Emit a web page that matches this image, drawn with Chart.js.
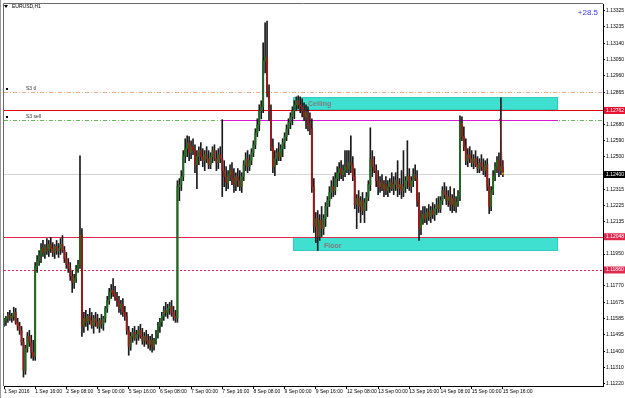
<!DOCTYPE html>
<html>
<head>
<meta charset="utf-8">
<script src="https://cdn.jsdelivr.net/npm/chart.js@4.4.0/dist/chart.umd.min.js"></script>
<style>
  html, body { margin: 0; padding: 0; background: #fff; }
</style>
</head>
<body>
<canvas id="myChart" width="625" height="398"></canvas>
<script>
// EURUSD H1, 1 Sep 2016 00:00 .. 15 Sep 2016 16:00 (one bar per hour)
var tickLabels = ['1 Sep 2016', '1 Sep 16:00', '2 Sep 08:00', '5 Sep 00:00', '5 Sep 16:00', '6 Sep 08:00',
  '7 Sep 00:00', '7 Sep 16:00', '8 Sep 08:00', '9 Sep 00:00', '9 Sep 16:00', '12 Sep 08:00',
  '13 Sep 00:00', '13 Sep 16:00', '14 Sep 08:00', '15 Sep 00:00', '15 Sep 16:00'];
var barsPerLabel = 16;

var priceTicks = [1.13325, 1.13235, 1.13140, 1.13050, 1.12960, 1.12865, 1.12680, 1.12590, 1.12500,
  1.12315, 1.12225, 1.12135, 1.11950, 1.11770, 1.11675, 1.11585, 1.11495, 1.11400, 1.11310, 1.11220];
var markedPrices = [1.12762, 1.12400, 1.12048, 1.11860];
var markedColors = ['#e8102e', '#000000', '#e0284f', '#e0284f'];

var opens = [
  1.11564, 1.11575, 1.11587, 1.11603, 1.11587, 1.11598, 1.11620, 1.11564, 1.11541, 1.11519,
  1.11451, 1.11293, 1.11417, 1.11485, 1.11451, 1.11395, 1.11372, 1.11880, 1.11914, 1.11942,
  1.11981, 1.11959, 1.11993, 1.11970, 1.12004, 1.11981, 1.11959, 1.11993, 1.11970, 1.11981,
  1.12004, 1.11970, 1.11925, 1.11891, 1.11869, 1.11824, 1.11790, 1.11812, 1.11869, 1.11891,
  1.12060, 1.11541, 1.11587, 1.11564, 1.11598, 1.11575, 1.11547, 1.11587, 1.11564, 1.11541,
  1.11575, 1.11553, 1.11587, 1.11643, 1.11688, 1.11733, 1.11745, 1.11722, 1.11699, 1.11677,
  1.11643, 1.11666, 1.11620, 1.11598, 1.11519, 1.11428, 1.11485, 1.11507, 1.11474, 1.11496,
  1.11519, 1.11485, 1.11462, 1.11485, 1.11462, 1.11440, 1.11462, 1.11428, 1.11462, 1.11496,
  1.11541, 1.11564, 1.11598, 1.11632, 1.11620, 1.11643, 1.11654, 1.11620, 1.11598, 1.11587,
  1.12331, 1.12343, 1.12388, 1.12506, 1.12546, 1.12580, 1.12523, 1.12557, 1.12535, 1.12455,
  1.12501, 1.12535, 1.12501, 1.12478, 1.12512, 1.12489, 1.12455, 1.12501, 1.12535, 1.12489,
  1.12467, 1.12512, 1.12489, 1.12422, 1.12388, 1.12354, 1.12399, 1.12422, 1.12377, 1.12343,
  1.12388, 1.12365, 1.12331, 1.12388, 1.12455, 1.12489, 1.12444, 1.12478, 1.12523, 1.12568,
  1.12636, 1.12681, 1.12760, 1.12783, 1.13042, 1.13065, 1.12862, 1.12749, 1.12557, 1.12444,
  1.12489, 1.12523, 1.12501, 1.12546, 1.12580, 1.12614, 1.12659, 1.12693, 1.12726, 1.12760,
  1.12794, 1.12817, 1.12794, 1.12783, 1.12760, 1.12726, 1.12749, 1.12681, 1.12659, 1.12331,
  1.12106, 1.12151, 1.12049, 1.12140, 1.12094, 1.12151, 1.12219, 1.12252, 1.12298, 1.12331,
  1.12309, 1.12377, 1.12410, 1.12433, 1.12399, 1.12422, 1.12444, 1.12433, 1.12467, 1.12455,
  1.12388, 1.12230, 1.12264, 1.12219, 1.12252, 1.12196, 1.12241, 1.12275, 1.12343, 1.12489,
  1.12444, 1.12422, 1.12365, 1.12331, 1.12354, 1.12320, 1.12343, 1.12309, 1.12331, 1.12354,
  1.12320, 1.12343, 1.12365, 1.12320, 1.12343, 1.12309, 1.12331, 1.12365, 1.12388, 1.12331,
  1.12365, 1.12399, 1.12377, 1.12252, 1.12094, 1.12151, 1.12173, 1.12151, 1.12185, 1.12162,
  1.12196, 1.12173, 1.12207, 1.12230, 1.12207, 1.12252, 1.12309, 1.12286, 1.12252, 1.12275,
  1.12230, 1.12264, 1.12219, 1.12241, 1.12275, 1.12693, 1.12614, 1.12557, 1.12478, 1.12512,
  1.12489, 1.12467, 1.12489, 1.12455, 1.12433, 1.12467, 1.12444, 1.12422, 1.12455, 1.12331,
  1.12219, 1.12309, 1.12388, 1.12444, 1.12478, 1.12422, 1.12444
];
var highs = [
  1.11587, 1.11598, 1.11620, 1.11632, 1.11615, 1.11649, 1.11643, 1.11587, 1.11564, 1.11541,
  1.11474, 1.11434, 1.11507, 1.11519, 1.11491, 1.11462, 1.11902, 1.11942, 1.11970, 1.12010,
  1.12027, 1.12004, 1.12038, 1.12027, 1.12044, 1.12015, 1.12004, 1.12027, 1.12010, 1.12038,
  1.12055, 1.11993, 1.11959, 1.11925, 1.11902, 1.11857, 1.11835, 1.11886, 1.11914, 1.12506,
  1.12094, 1.11620, 1.11632, 1.11609, 1.11643, 1.11620, 1.11603, 1.11620, 1.11609, 1.11587,
  1.11609, 1.11598, 1.11654, 1.11711, 1.11756, 1.11778, 1.11812, 1.11767, 1.11733, 1.11711,
  1.11688, 1.11699, 1.11654, 1.11620, 1.11541, 1.11507, 1.11530, 1.11541, 1.11519, 1.11541,
  1.11553, 1.11530, 1.11507, 1.11519, 1.11496, 1.11485, 1.11496, 1.11474, 1.11519, 1.11564,
  1.11587, 1.11620, 1.11654, 1.11677, 1.11666, 1.11677, 1.11688, 1.11654, 1.11632, 1.12365,
  1.12377, 1.12422, 1.12535, 1.12602, 1.12619, 1.12614, 1.12591, 1.12602, 1.12568, 1.12535,
  1.12557, 1.12580, 1.12546, 1.12535, 1.12557, 1.12535, 1.12523, 1.12557, 1.12568, 1.12535,
  1.12546, 1.12557, 1.12710, 1.12478, 1.12444, 1.12422, 1.12455, 1.12467, 1.12433, 1.12410,
  1.12433, 1.12422, 1.12410, 1.12478, 1.12523, 1.12535, 1.12512, 1.12546, 1.12591, 1.12659,
  1.12715, 1.12794, 1.12817, 1.13144, 1.13257, 1.13268, 1.12907, 1.12794, 1.12602, 1.12535,
  1.12546, 1.12580, 1.12568, 1.12602, 1.12636, 1.12681, 1.12715, 1.12749, 1.12783, 1.12817,
  1.12839, 1.12845, 1.12839, 1.12828, 1.12805, 1.12794, 1.12783, 1.12749, 1.12715, 1.12377,
  1.12185, 1.12196, 1.12173, 1.12219, 1.12173, 1.12241, 1.12275, 1.12331, 1.12365, 1.12388,
  1.12410, 1.12444, 1.12467, 1.12478, 1.12455, 1.12535, 1.12535, 1.12535, 1.12619, 1.12501,
  1.12433, 1.12286, 1.12309, 1.12275, 1.12298, 1.12264, 1.12298, 1.12365, 1.12664, 1.12535,
  1.12501, 1.12455, 1.12422, 1.12388, 1.12399, 1.12365, 1.12388, 1.12365, 1.12377, 1.12410,
  1.12388, 1.12410, 1.12478, 1.12377, 1.12422, 1.12535, 1.12388, 1.12591, 1.12433, 1.12388,
  1.12433, 1.12455, 1.12422, 1.12298, 1.12196, 1.12219, 1.12219, 1.12207, 1.12230, 1.12219,
  1.12241, 1.12230, 1.12264, 1.12275, 1.12275, 1.12331, 1.12354, 1.12331, 1.12309, 1.12331,
  1.12286, 1.12320, 1.12275, 1.12309, 1.12732, 1.12726, 1.12670, 1.12602, 1.12546, 1.12557,
  1.12535, 1.12512, 1.12535, 1.12501, 1.12489, 1.12512, 1.12489, 1.12478, 1.12489, 1.12377,
  1.12331, 1.12422, 1.12467, 1.12501, 1.12523, 1.12834, 1.12478
];
var lows = [
  1.11541, 1.11547, 1.11564, 1.11575, 1.11564, 1.11575, 1.11553, 1.11519, 1.11496, 1.11434,
  1.11254, 1.11270, 1.11395, 1.11428, 1.11361, 1.11349, 1.11349, 1.11846, 1.11886, 1.11902,
  1.11936, 1.11925, 1.11948, 1.11936, 1.11959, 1.11936, 1.11925, 1.11948, 1.11931, 1.11948,
  1.11959, 1.11902, 1.11869, 1.11846, 1.11801, 1.11733, 1.11756, 1.11790, 1.11846, 1.11869,
  1.11485, 1.11507, 1.11541, 1.11519, 1.11553, 1.11530, 1.11502, 1.11541, 1.11530, 1.11507,
  1.11530, 1.11519, 1.11564, 1.11620, 1.11666, 1.11699, 1.11711, 1.11688, 1.11654, 1.11620,
  1.11609, 1.11598, 1.11575, 1.11496, 1.11378, 1.11406, 1.11451, 1.11462, 1.11440, 1.11462,
  1.11474, 1.11440, 1.11428, 1.11440, 1.11417, 1.11406, 1.11395, 1.11406, 1.11440, 1.11474,
  1.11507, 1.11541, 1.11575, 1.11598, 1.11587, 1.11609, 1.11598, 1.11575, 1.11564, 1.11564,
  1.12252, 1.12309, 1.12365, 1.12467, 1.12501, 1.12478, 1.12489, 1.12512, 1.12410, 1.12320,
  1.12455, 1.12478, 1.12444, 1.12422, 1.12467, 1.12433, 1.12433, 1.12467, 1.12478, 1.12422,
  1.12433, 1.12467, 1.12275, 1.12331, 1.12309, 1.12320, 1.12365, 1.12343, 1.12298, 1.12309,
  1.12331, 1.12309, 1.12298, 1.12365, 1.12422, 1.12410, 1.12422, 1.12455, 1.12501, 1.12546,
  1.12614, 1.12647, 1.12715, 1.12749, 1.12975, 1.12839, 1.12704, 1.12535, 1.12410, 1.12394,
  1.12455, 1.12478, 1.12478, 1.12501, 1.12546, 1.12591, 1.12625, 1.12659, 1.12681, 1.12715,
  1.12760, 1.12772, 1.12749, 1.12726, 1.12704, 1.12659, 1.12647, 1.12625, 1.12298, 1.12072,
  1.12015, 1.11970, 1.12027, 1.12049, 1.12060, 1.12106, 1.12162, 1.12219, 1.12264, 1.12275,
  1.12286, 1.12331, 1.12365, 1.12377, 1.12365, 1.12388, 1.12410, 1.12399, 1.12410, 1.12365,
  1.12207, 1.12094, 1.12185, 1.12128, 1.12173, 1.12128, 1.12196, 1.12252, 1.12309, 1.12388,
  1.12410, 1.12331, 1.12286, 1.12298, 1.12309, 1.12275, 1.12286, 1.12275, 1.12298, 1.12309,
  1.12286, 1.12309, 1.12275, 1.12286, 1.12264, 1.12275, 1.12298, 1.12320, 1.12309, 1.12298,
  1.12331, 1.12365, 1.12219, 1.12027, 1.12060, 1.12117, 1.12128, 1.12117, 1.12140, 1.12128,
  1.12151, 1.12140, 1.12173, 1.12185, 1.12185, 1.12230, 1.12264, 1.12230, 1.12219, 1.12196,
  1.12185, 1.12196, 1.12185, 1.12219, 1.12252, 1.12591, 1.12535, 1.12455, 1.12444, 1.12467,
  1.12444, 1.12433, 1.12444, 1.12410, 1.12410, 1.12422, 1.12399, 1.12388, 1.12309, 1.12179,
  1.12196, 1.12286, 1.12365, 1.12410, 1.12388, 1.12399, 1.12388
];
var closes = [
  1.11575, 1.11587, 1.11603, 1.11587, 1.11598, 1.11620, 1.11564, 1.11541, 1.11519, 1.11451,
  1.11293, 1.11417, 1.11485, 1.11451, 1.11395, 1.11372, 1.11880, 1.11914, 1.11942, 1.11981,
  1.11959, 1.11993, 1.11970, 1.12004, 1.11981, 1.11959, 1.11993, 1.11970, 1.11981, 1.12004,
  1.11970, 1.11925, 1.11891, 1.11869, 1.11824, 1.11790, 1.11812, 1.11869, 1.11891, 1.12060,
  1.11541, 1.11587, 1.11564, 1.11598, 1.11575, 1.11547, 1.11587, 1.11564, 1.11541, 1.11575,
  1.11553, 1.11587, 1.11643, 1.11688, 1.11733, 1.11745, 1.11722, 1.11699, 1.11677, 1.11643,
  1.11666, 1.11620, 1.11598, 1.11519, 1.11428, 1.11485, 1.11507, 1.11474, 1.11496, 1.11519,
  1.11485, 1.11462, 1.11485, 1.11462, 1.11440, 1.11462, 1.11428, 1.11462, 1.11496, 1.11541,
  1.11564, 1.11598, 1.11632, 1.11620, 1.11643, 1.11654, 1.11620, 1.11598, 1.11587, 1.12331,
  1.12343, 1.12388, 1.12506, 1.12546, 1.12580, 1.12523, 1.12557, 1.12535, 1.12455, 1.12501,
  1.12535, 1.12501, 1.12478, 1.12512, 1.12489, 1.12455, 1.12501, 1.12535, 1.12489, 1.12467,
  1.12512, 1.12489, 1.12422, 1.12388, 1.12354, 1.12399, 1.12422, 1.12377, 1.12343, 1.12388,
  1.12365, 1.12331, 1.12388, 1.12455, 1.12489, 1.12444, 1.12478, 1.12523, 1.12568, 1.12636,
  1.12681, 1.12760, 1.12783, 1.13042, 1.13065, 1.12862, 1.12749, 1.12557, 1.12444, 1.12489,
  1.12523, 1.12501, 1.12546, 1.12580, 1.12614, 1.12659, 1.12693, 1.12726, 1.12760, 1.12794,
  1.12817, 1.12794, 1.12783, 1.12760, 1.12726, 1.12749, 1.12681, 1.12659, 1.12331, 1.12106,
  1.12151, 1.12049, 1.12140, 1.12094, 1.12151, 1.12219, 1.12252, 1.12298, 1.12331, 1.12309,
  1.12377, 1.12410, 1.12433, 1.12399, 1.12422, 1.12444, 1.12433, 1.12467, 1.12455, 1.12388,
  1.12230, 1.12264, 1.12219, 1.12252, 1.12196, 1.12241, 1.12275, 1.12343, 1.12489, 1.12444,
  1.12422, 1.12365, 1.12331, 1.12354, 1.12320, 1.12343, 1.12309, 1.12331, 1.12354, 1.12320,
  1.12343, 1.12365, 1.12320, 1.12343, 1.12309, 1.12331, 1.12365, 1.12388, 1.12331, 1.12365,
  1.12399, 1.12377, 1.12252, 1.12094, 1.12151, 1.12173, 1.12151, 1.12185, 1.12162, 1.12196,
  1.12173, 1.12207, 1.12230, 1.12207, 1.12252, 1.12309, 1.12286, 1.12252, 1.12275, 1.12230,
  1.12264, 1.12219, 1.12241, 1.12275, 1.12693, 1.12614, 1.12557, 1.12478, 1.12512, 1.12489,
  1.12467, 1.12489, 1.12455, 1.12433, 1.12467, 1.12444, 1.12422, 1.12455, 1.12331, 1.12219,
  1.12309, 1.12388, 1.12444, 1.12478, 1.12422, 1.12444, 1.12400
];

// horizontal levels drawn across the whole chart
var levelPrices = [1.12865, 1.12762, 1.12710, 1.12400, 1.12048, 1.11860];
var levelNames = ['S3 tl', '', 'S3 sell', '', '', ''];

// trend line starting at the 7 Sep 16:00 high
var trendFrom = 112, trendTo = 284.4, trendPrice = 1.12710;

// trade: sell at S3, closed on the last bar
var tradeBars = [254.5, 256];
var tradePrices = [1.12710, 1.12405];

// rectangles
var zoneNames = ['Ceiling', 'Floor'];
var zoneFrom = [148.1, 148.1];
var zoneTo = [284.4, 284.4];
var zoneTop = [1.12840, 1.12044];
var zoneBottom = [1.12762, 1.11968];

var xMax = 307.4;
var font5 = { family: 'Liberation Sans', size: 5, lineHeight: 1 };

var levelStyle = [
  { color: '#f5a88a', dash: [4, 2, 1, 2] },
  { color: '#e00010', dash: [] },
  { color: '#66b85a', dash: [4, 2, 1, 2] },
  { color: '#d4d4d4', dash: [] },
  { color: '#e0284f', dash: [] },
  { color: '#e0284f', dash: [2, 2] }
];
var zoneTextOffset = [{ dx: 15, dy: 0.5 }, { dx: 31, dy: 2 }];

var datasets = [];
datasets.push({
  type: 'bar',
  label: 'body',
  data: opens.map(function (o, i) { return { x: i, y: [o, closes[i]] }; }),
  backgroundColor: opens.map(function (o, i) { return closes[i] >= o ? '#1f6a1f' : '#9a1a1a'; }),
  barThickness: 1.3,
  grouped: false,
  order: 0
});
datasets.push({
  type: 'bar',
  label: 'wick',
  data: lows.map(function (l, i) { return { x: i, y: [l, highs[i]] }; }),
  backgroundColor: '#1a1a1a',
  barThickness: 1,
  grouped: false,
  order: 1
});
datasets.push({
  type: 'line',
  label: 'trade',
  data: tradeBars.map(function (b, i) { return { x: b, y: tradePrices[i] }; }),
  borderColor: '#e00000',
  borderDash: [1, 1],
  borderWidth: 1,
  pointStyle: 'rect',
  pointRadius: 1.2,
  pointBorderWidth: 0,
  pointBackgroundColor: ['#e00000', '#f0c000'],
  order: -1
});

function markedIndex(v) { return markedPrices.indexOf(v); }

function hLine(ctx, x0, x1, yy, color, dash) {
  var py = Math.round(yy) + 0.5;
  ctx.strokeStyle = color;
  ctx.lineWidth = 1;
  ctx.setLineDash(dash);
  ctx.beginPath();
  ctx.moveTo(x0, py);
  ctx.lineTo(x1, py);
  ctx.stroke();
  ctx.setLineDash([]);
}

var chartDecor = {
  id: 'chartDecor',
  beforeDatasetsDraw: function (chart) {
    var ctx = chart.ctx, x = chart.scales.x, y = chart.scales.y, a = chart.chartArea;
    ctx.save();
    for (var i = 0; i < zoneNames.length; i++) {
      var x0 = Math.round(x.getPixelForValue(zoneFrom[i])), x1 = Math.round(x.getPixelForValue(zoneTo[i]));
      var y0 = Math.round(y.getPixelForValue(zoneTop[i])), y1 = Math.round(y.getPixelForValue(zoneBottom[i]));
      ctx.fillStyle = '#40e0d0';
      ctx.fillRect(x0, y0, x1 - x0, y1 - y0);
      ctx.strokeStyle = '#34cdbd';
      ctx.lineWidth = 1;
      ctx.strokeRect(x0 + 0.5, y0 + 0.5, x1 - x0 - 1, y1 - y0 - 1);
      ctx.fillStyle = '#7c7c7c';
      ctx.font = 'bold 7px "Liberation Sans"';
      ctx.textBaseline = 'middle';
      ctx.textAlign = 'left';
      ctx.fillText(zoneNames[i], x0 + zoneTextOffset[i].dx, (y0 + y1) / 2 + zoneTextOffset[i].dy);
    }
    for (var k = 0; k < levelPrices.length; k++) {
      hLine(ctx, a.left, a.right, y.getPixelForValue(levelPrices[k]), levelStyle[k].color, levelStyle[k].dash);
    }
    hLine(ctx, x.getPixelForValue(trendFrom), x.getPixelForValue(trendTo), y.getPixelForValue(trendPrice), '#d61ad6', []);
    ctx.restore();
  },
  afterDraw: function (chart) {
    var ctx = chart.ctx, a = chart.chartArea, y = chart.scales.y;
    ctx.save();
    // window frame
    ctx.strokeStyle = '#9a9a9a';
    ctx.lineWidth = 1;
    ctx.beginPath();
    ctx.moveTo(0.5, 0); ctx.lineTo(0.5, 398);
    ctx.stroke();
    ctx.strokeStyle = '#6a6a6a';
    ctx.beginPath();
    ctx.moveTo(a.left - 0.5, a.bottom); ctx.lineTo(a.left - 0.5, a.top - 0.5); ctx.lineTo(a.right, a.top - 0.5);
    ctx.stroke();
    // symbol
    ctx.fillStyle = '#000';
    ctx.beginPath();
    ctx.moveTo(4, 5); ctx.lineTo(8, 5); ctx.lineTo(6, 8); ctx.closePath();
    ctx.fill();
    ctx.font = '5px "Liberation Sans"';
    ctx.textBaseline = 'middle';
    ctx.textAlign = 'left';
    ctx.fillText('EURUSD,H1', 12, 6.5);
    // level names
    for (var k = 0; k < levelNames.length; k++) {
      if (!levelNames[k]) continue;
      var ly = Math.round(y.getPixelForValue(levelPrices[k]));
      ctx.fillStyle = '#000';
      ctx.fillRect(6, ly - 4, 2, 2);
      ctx.fillStyle = '#333';
      ctx.fillText(levelNames[k], 26, ly - 3);
    }
    // profit
    ctx.fillStyle = '#3535ff';
    ctx.font = '8px "Liberation Sans"';
    ctx.textAlign = 'right';
    ctx.fillText('+28.5', 598, 12.5);
    ctx.restore();
  }
};

new Chart(document.getElementById('myChart'), {
  type: 'bar',
  data: { datasets: datasets },
  plugins: [chartDecor],
  options: {
    responsive: false,
    animation: false,
    events: [],
    layout: { padding: { left: 3, top: 3, right: 0, bottom: 0 } },
    plugins: { legend: { display: false }, tooltip: { enabled: false } },
    scales: {
      x: {
        type: 'linear',
        min: 0,
        max: xMax,
        offset: false,
        grid: { drawOnChartArea: false, drawTicks: true, tickLength: 3, color: '#000', offset: false },
        border: { display: true, color: '#000' },
        ticks: {
          align: 'start',
          autoSkip: false,
          maxRotation: 0,
          padding: 0,
          color: '#000',
          font: font5,
          callback: function (v, i) { return tickLabels[i]; }
        },
        afterBuildTicks: function (s) {
          s.ticks = tickLabels.map(function (t, k) { return { value: k * barsPerLabel }; });
        },
        afterFit: function (s) { s.height = 12; }
      },
      y: {
        position: 'right',
        min: 1.11204,
        max: 1.13364,
        grid: { drawOnChartArea: false, drawTicks: true, tickLength: 2, color: '#000' },
        border: { display: true, color: '#000' },
        ticks: {
          autoSkip: false,
          padding: 1,
          font: font5,
          color: function (c) { return c.tick && markedIndex(c.tick.value) >= 0 ? '#fff' : '#000'; },
          showLabelBackdrop: function (c) { return !!(c.tick && markedIndex(c.tick.value) >= 0); },
          backdropColor: function (c) {
            var m = c.tick ? markedIndex(c.tick.value) : -1;
            return m >= 0 ? markedColors[m] : 'rgba(0,0,0,0)';
          },
          backdropPadding: { left: 2, right: 4, top: 1, bottom: 1 },
          callback: function (v) { return v.toFixed(5); }
        },
        afterBuildTicks: function (s) {
          var all = priceTicks.concat(markedPrices);
          s.ticks = all.map(function (v) { return { value: v }; });
        },
        afterFit: function (s) { s.width = 22; }
      }
    }
  }
});
</script>
</body>
</html>
